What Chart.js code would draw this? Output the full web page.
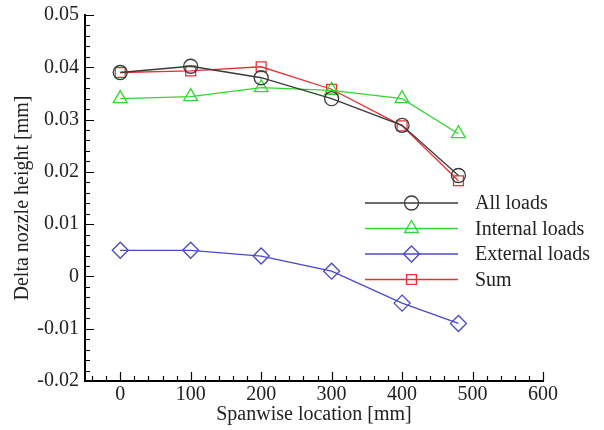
<!DOCTYPE html>
<html>
<head>
    <title>Delta nozzle height</title>
    <style>
        body {
            margin: 0;
            background-color: #ffffff;
        }
        #wrap {
            width: 604px;
            height: 430px;
        }
    </style>
</head>
<body>
    <div id="wrap"><canvas id="chart"></canvas></div>

    <script src="https://cdn.jsdelivr.net/npm/chart.js"></script>
    <script>
        // data
        const spanwise = [0, 100, 200, 300, 400, 480];
        const allLoads = [0.0390, 0.0402, 0.0380, 0.0340, 0.0289, 0.0193];
        const internalLoads = [0.0340, 0.0344, 0.0361, 0.0356, 0.0340, 0.0273];
        const externalLoads = [0.0050, 0.0050, 0.0039, 0.0010, -0.0051, -0.0090];
        const sumLoads = [0.0390, 0.0393, 0.0401, 0.0358, 0.0288, 0.0183];

        const xTicks = [0, 100, 200, 300, 400, 500, 600];
        const yTicks = [-0.02, -0.01, 0, 0.01, 0.02, 0.03, 0.04, 0.05];

        const serif = '"Liberation Serif", "DejaVu Serif", serif';

        function pts(ys) {
            return spanwise.map((x, i) => ({ x: x, y: ys[i] }));
        }

        function series(label, ys, color, style, r) {
            return {
                label: label,
                data: pts(ys),
                showLine: true,
                borderColor: color,
                backgroundColor: 'rgba(0,0,0,0)',
                borderWidth: 1.3,
                pointStyle: style,
                pointRadius: r,
                pointBorderWidth: 1.3,
                pointBorderColor: color,
                pointBackgroundColor: 'rgba(0,0,0,0)'
            };
        }

        // inward axis ticks + line/marker legend
        const decor = {
            id: 'decor',
            afterDraw(chart) {
                const ctx = chart.ctx;
                const xs = chart.scales.x, ys = chart.scales.y;
                const a = chart.chartArea;
                ctx.save();
                ctx.strokeStyle = '#000';
                ctx.lineWidth = 1.2;
                ctx.beginPath();
                for (let v = -40; v <= 600; v += 20) {
                    const px = Math.round(xs.getPixelForValue(v)) + 0.5;
                    const len = (v % 100 === 0) ? 9 : 5;
                    ctx.moveTo(px, a.bottom);
                    ctx.lineTo(px, a.bottom - len);
                }
                for (let k = -20; k <= 50; k += 2) {
                    const py = Math.round(ys.getPixelForValue(k / 1000)) + 0.5;
                    const len = (k % 10 === 0) ? 9 : 5;
                    ctx.moveTo(a.left, py);
                    ctx.lineTo(a.left + len, py);
                }
                ctx.stroke();

                // legend
                const x0 = 365, x1 = 458, tx = 475;
                let y = 203;
                ctx.font = '20px ' + serif;
                ctx.textBaseline = 'middle';
                chart.data.datasets.forEach(ds => {
                    ctx.strokeStyle = ds.borderColor;
                    ctx.lineWidth = 1.3;
                    ctx.beginPath();
                    ctx.moveTo(x0, y);
                    ctx.lineTo(x1, y);
                    ctx.stroke();
                    ctx.fillStyle = 'rgba(0,0,0,0)';
                    Chart.helpers.drawPoint(ctx, {
                        pointStyle: ds.pointStyle,
                        radius: ds.pointRadius,
                        borderWidth: 1.3,
                        rotation: 0
                    }, (x0 + x1) / 2, y);
                    ctx.fillStyle = '#222';
                    ctx.fillText(ds.label, tx, y + 1);
                    y += 25.5;
                });
                ctx.restore();
            }
        };

        new Chart(document.getElementById('chart'), {
            type: 'scatter',
            data: {
                datasets: [
                    series('All loads', allLoads, '#3a3a3a', 'circle', 7),
                    series('Internal loads', internalLoads, '#33d633', 'triangle', 8),
                    series('External loads', externalLoads, '#4848c8', 'rectRot', 8),
                    series('Sum', sumLoads, '#e83232', 'rect', 7)
                ]
            },
            options: {
                responsive: true,
                maintainAspectRatio: false,
                animation: false,
                layout: {
                    padding: { top: 15, right: 61, bottom: 0, left: 11 }
                },
                plugins: {
                    legend: { display: false },
                    tooltip: { enabled: false }
                },
                scales: {
                    x: {
                        type: 'linear',
                        min: -50,
                        max: 600,
                        afterBuildTicks: s => { s.ticks = xTicks.map(v => ({ value: v })); },
                        afterFit: s => { s.height = 49; },
                        grid: { display: false, drawTicks: false },
                        border: { display: true, color: '#000', width: 2 },
                        ticks: {
                            padding: 2,
                            color: '#222',
                            font: { family: serif, size: 20 },
                            maxRotation: 0,
                            callback: v => String(v)
                        },
                        title: {
                            display: true,
                            text: 'Spanwise location [mm]',
                            color: '#222',
                            font: { family: serif, size: 20 },
                            padding: { top: 0, bottom: 3 }
                        }
                    },
                    y: {
                        type: 'linear',
                        min: -0.02,
                        max: 0.05,
                        afterBuildTicks: s => { s.ticks = yTicks.map(v => ({ value: v })); },
                        afterFit: s => { s.width = 74; s.paddingTop = 0; s.paddingBottom = 0; },
                        grid: { display: false, drawTicks: false },
                        border: { display: true, color: '#000', width: 2 },
                        ticks: {
                            padding: 6,
                            color: '#222',
                            font: { family: serif, size: 20 },
                            callback: v => String(Number(v.toFixed(3)))
                        },
                        title: {
                            display: true,
                            text: 'Delta nozzle height [mm]',
                            color: '#222',
                            font: { family: serif, size: 20 },
                            padding: { top: 0, bottom: 0 }
                        }
                    }
                }
            },
            plugins: [decor]
        });
    </script>
</body>
</html>
